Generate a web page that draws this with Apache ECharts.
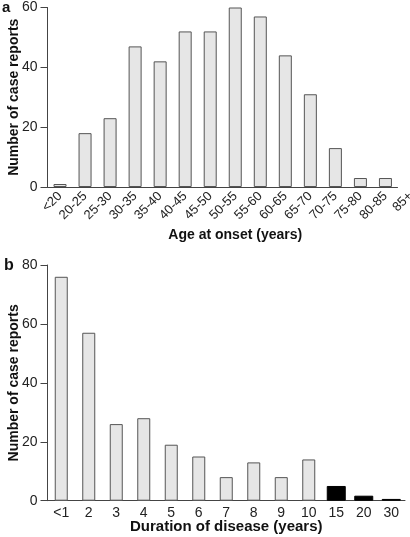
<!DOCTYPE html>
<html>
<head>
<meta charset="utf-8">
<script src="https://cdn.jsdelivr.net/npm/echarts@6/dist/echarts.min.js"></script>
<style>
html,body{margin:0;padding:0;background:#fff;}
#chart{width:410px;height:537px;}
</style>
</head>
<body>
<div id="chart"></div>
<script>
// Panel a: age at onset
var ageCategories = ['<20','20-25','25-30','30-35','35-40','40-45','45-50','50-55','55-60','60-65','65-70','70-75','75-80','80-85','85+'];
var ageCounts = [1, 18, 23, 47, 42, 52, 52, 60, 57, 44, 31, 13, 3, 3, null];
var ageTicks = [0, 20, 40, 60];

// Panel b: duration of disease
var durationCategories = ['<1','2','3','4','5','6','7','8','9','10','15','20','30'];
var durationShort = [76, 57, 26, 28, 19, 15, 8, 13, 8, 14, '-', '-', '-'];
var durationLong = ['-', '-', '-', '-', '-', '-', '-', '-', '-', '-', 5, 1.7, 0.6];
var durationTicks = [0, 20, 40, 60, 80];

var FONT = '"Liberation Sans", Arial, Helvetica, sans-serif';
var chart = echarts.init(document.getElementById('chart'), null, {renderer: 'canvas'});

var yAxisCommon = function (max, gi) {
  return {
    type: 'value', gridIndex: gi, min: 0, max: max, interval: 20,
    axisLine: {show: true, lineStyle: {color: '#444', width: 1}},
    axisTick: {show: true, length: 7, lineStyle: {color: '#444', width: 1}},
    splitLine: {show: false},
    axisLabel: {color: '#222', fontSize: 14, fontFamily: FONT, margin: 10},
    name: 'Number of case reports',
    nameLocation: 'middle', nameGap: 26, nameMoveOverlap: false,
    nameTextStyle: {color: '#111', fontSize: 14, fontWeight: 'bold', fontFamily: FONT}
  };
};

var option = {
  animation: false,
  backgroundColor: '#fff',
  title: [
    {text: 'a', left: 2, top: 0, padding: 0, textStyle: {fontSize: 15, fontWeight: 'bold', color: '#111', fontFamily: FONT}},
    {text: 'b', left: 4, top: 258, padding: 0, textStyle: {fontSize: 16, fontWeight: 'bold', color: '#111', fontFamily: FONT}}
  ],
  grid: [
    {left: 47.5, right: -13, top: 7.5, bottom: 350, outerBoundsMode: 'none', containLabel: false},
    {left: 47.5, right: 5, top: 265, bottom: 36.3, outerBoundsMode: 'none', containLabel: false},
    {left: 47.5, right: 12.5, top: 7.5, bottom: 350, outerBoundsMode: 'none', containLabel: false}
  ],
  xAxis: [
    {
      type: 'category', gridIndex: 0, data: ageCategories,
      axisLine: {show: false}, axisTick: {show: false},
      axisLabel: {color: '#222', fontSize: 13, fontFamily: FONT, rotate: 45, margin: 7, interval: 0},
      name: 'Age at onset (years)', nameLocation: 'middle', nameGap: 41, nameMoveOverlap: false,
      nameTextStyle: {color: '#111', fontSize: 14, fontWeight: 'bold', fontFamily: FONT}
    },
    {
      type: 'category', gridIndex: 1, data: durationCategories,
      axisLine: {show: true, lineStyle: {color: '#444', width: 1}}, axisTick: {show: false},
      axisLabel: {color: '#222', fontSize: 14, fontFamily: FONT, margin: 5, interval: 0},
      name: 'Duration of disease (years)', nameLocation: 'middle', nameGap: 19, nameMoveOverlap: false,
      nameTextStyle: {color: '#111', fontSize: 15, fontWeight: 'bold', fontFamily: FONT}
    },
    {
      type: 'category', gridIndex: 1, data: durationCategories, show: false
    },
    {
      type: 'category', gridIndex: 2, data: ageCategories.slice(0, 14),
      axisLine: {show: true, lineStyle: {color: '#444', width: 1}},
      axisTick: {show: false}, axisLabel: {show: false}
    }
  ],
  yAxis: [
    yAxisCommon(60, 0),
    yAxisCommon(80, 1),
    {type: 'value', gridIndex: 2, min: 0, max: 60, show: false}
  ],
  series: [
    {
      type: 'bar', xAxisIndex: 0, yAxisIndex: 0, data: ageCounts, barWidth: 13,
      itemStyle: {color: '#e6e6e6', borderColor: '#555', borderWidth: 1}
    },
    {
      type: 'bar', xAxisIndex: 1, yAxisIndex: 1, data: durationShort, barWidth: 13,
      itemStyle: {color: '#e6e6e6', borderColor: '#555', borderWidth: 1}
    },
    {
      type: 'bar', xAxisIndex: 2, yAxisIndex: 1, data: durationLong, barWidth: 19,
      itemStyle: {color: '#000', borderColor: '#000', borderWidth: 1}
    }
  ]
};
chart.setOption(option);
</script>
</body>
</html>
